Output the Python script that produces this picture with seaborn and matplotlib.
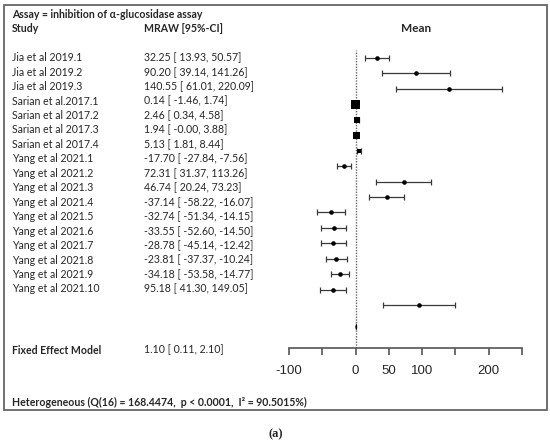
import numpy as np
import pandas as pd
import seaborn as sns
import matplotlib.pyplot as plt
from matplotlib.patches import Rectangle

studies = ["Jia et al 2019.1", "Jia et al 2019.2", "Jia et al 2019.3",
           "Sarian et al.2017.1", "Sarian et al 2017.2", "Sarian et al 2017.3", "Sarian et al 2017.4",
           "Yang et al 2021.1", "Yang et al 2021.2", "Yang et al 2021.3", "Yang et al 2021.4",
           "Yang et al 2021.5", "Yang et al 2021.6", "Yang et al 2021.7", "Yang et al 2021.8",
           "Yang et al 2021.9", "Yang et al 2021.10"]
means = [32.25, 90.20, 140.55, 0.14, 2.46, 1.94, 5.13, -17.70, 72.31, 46.74,
         -37.14, -32.74, -33.55, -28.78, -23.81, -34.18, 95.18]
lower = [13.93, 39.14, 61.01, -1.46, 0.34, -0.0, 1.81, -27.84, 31.37, 20.24,
         -58.22, -51.34, -52.60, -45.14, -37.37, -53.58, 41.30]
upper = [50.57, 141.26, 220.09, 1.74, 4.58, 3.88, 8.44, -7.56, 113.26, 73.23,
         -16.07, -14.15, -14.50, -12.42, -10.24, -14.77, 149.05]
# box size (weight) for the big-weight studies, 0 = small dot
box_size = [0, 0, 0, 42, 19, 25, 9, 0, 0, 0, 0, 0, 0, 0, 0, 0, 0]

fixed_mean, fixed_lo, fixed_hi = 1.10, 0.11, 2.10
het_text = "Heterogeneous (Q(16) = 168.4474,  p < 0.0001,  I\u00b2 = 90.5015%)"

df = pd.DataFrame({"study": studies, "mean": means, "lo": lower, "hi": upper, "w": box_size})
df["row"] = np.arange(len(df)) * 1.0

W, H = 550, 441
fig = plt.figure(figsize=(W / 100, H / 100), dpi=100)
sns.set_style("white")
lab_font = "Lato"

def fy(py):
    return 1 - py / H

# forest panel
ax = fig.add_axes([289 / W, 1 - 348 / H, 233 / W, 298 / H])
ax.axvline(0, color="#666666", lw=1.0, ls=(0, (1, 1)), zorder=1)
ax.errorbar(df["mean"], df["row"], xerr=[df["mean"] - df["lo"], df["hi"] - df["mean"]],
            fmt="none", ecolor="#3a3a3a", elinewidth=0.9, capsize=2.5, capthick=0.9, zorder=2)
dots = df[df["w"] == 0]
boxes = df[df["w"] > 0]
sns.scatterplot(data=dots, x="mean", y="row", color="black", s=11, marker="o",
                edgecolor="black", linewidth=0, ax=ax, zorder=3, legend=False)
sns.scatterplot(data=boxes, x="mean", y="row", size="w", sizes=(9, 42), size_norm=(9, 42),
                color="black", marker="s", linewidth=0, ax=ax, zorder=3, legend=False)
# fixed effect diamond
frow = 17.42
ax.fill([fixed_lo, fixed_mean, fixed_hi, fixed_mean], [frow, frow - 0.2, frow, frow + 0.2],
        color="black", lw=0.4, ec="black", zorder=3)

ax.set_xlim(-100, 250)
ax.set_ylim(18.78, -0.52)
for s in ["top", "right", "left"]:
    ax.spines[s].set_visible(False)
ax.spines["bottom"].set_color("#555555")
ax.spines["bottom"].set_linewidth(1.2)
ax.spines["bottom"].set_bounds(-100, 250)
ax.set_xticks([-100, -50, 0, 50, 100, 150, 200, 250])
ax.set_xticklabels(["-100", "", "0", "50", "100", "", "200", ""],
                   fontfamily="Liberation Sans", fontsize=9.5)
ax.tick_params(axis="x", direction="out", length=5, width=1.2, color="#555555", pad=7, bottom=True)
ax.set_yticks([])
ax.set_xlabel("")
ax.set_ylabel("")
ax.patch.set_alpha(0)

# text columns
fs = 7.6
fig.text(12 / W, fy(14), "Assay = inhibition of \u03b1-glucosidase assay", fontsize=fs,
         fontweight="bold", family=lab_font, va="center")
fig.text(12 / W, fy(28), "Study", fontsize=fs, fontweight="bold", family=lab_font, va="center")
fig.text(144 / W, fy(28), "MRAW [95%-CI]", fontsize=fs, fontweight="bold", family=lab_font, va="center")
fig.text(416 / W, fy(28), "Mean", fontsize=8.5, fontweight="bold", family=lab_font,
         va="center", ha="center")

for i, r in df.iterrows():
    py = 57.7 + 14.45 * i
    fig.text(12 / W, fy(py), r["study"], fontsize=fs, family=lab_font, va="center")
    fig.text(144 / W, fy(py), f"{r['mean']:.2f} [ {r['lo']:.2f}, {r['hi']:.2f}]",
             fontsize=fs, family=lab_font, va="center")

fig.text(12 / W, fy(350), "Fixed Effect Model", fontsize=fs, fontweight="bold", family=lab_font, va="center")
fig.text(144 / W, fy(350), f"{fixed_mean:.2f} [ {fixed_lo:.2f}, {fixed_hi:.2f}]",
         fontsize=fs, family=lab_font, va="center")
fig.text(12 / W, fy(402), het_text, fontsize=fs, fontweight="bold", family=lab_font, va="center")

fig.add_artist(Rectangle((4 / W, fy(410)), 543 / W, 405 / H, transform=fig.transFigure,
                         fill=False, ec="#666666", lw=1.3))
fig.text(276 / W, fy(434), "(a)", fontsize=9, family="Liberation Serif", fontweight="bold",
         ha="center", va="center")

plt.savefig("out.png", dpi=100)
